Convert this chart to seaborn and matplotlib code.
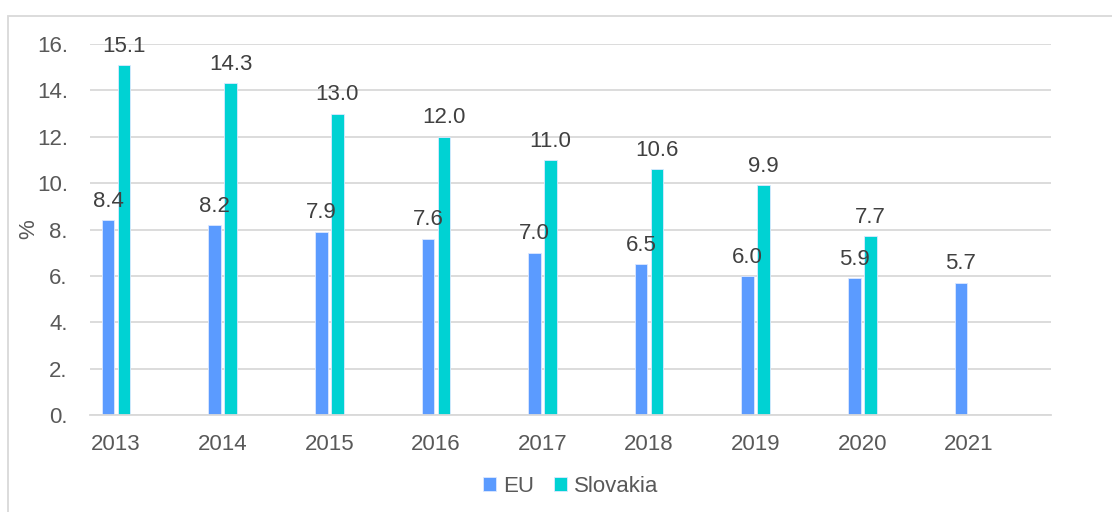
import matplotlib
matplotlib.use("Agg")
import matplotlib.pyplot as plt
import seaborn as sns
import pandas as pd
import numpy as np
from matplotlib.patches import Rectangle

years = ["2013", "2014", "2015", "2016", "2017", "2018", "2019", "2020", "2021"]
eu = [8.4, 8.2, 7.9, 7.6, 7.0, 6.5, 6.0, 5.9, 5.7]
slovakia = [15.1, 14.3, 13.0, 12.0, 11.0, 10.6, 9.9, 7.7, np.nan]
series = ["EU", "Slovakia"]
colors = ["#5B9BFF", "#00D2D3"]
yticks = [0, 2, 4, 6, 8, 10, 12, 14, 16]
ytick_labels = ["0.", "2.", "4.", "6.", "8.", "10.", "12.", "14.", "16."]

df = pd.DataFrame({
    "year": years * 2,
    "value": eu + slovakia,
    "series": ["EU"] * len(years) + ["Slovakia"] * len(years),
})

sns.set_theme(style="white")
plt.rcParams["font.family"] = ["Liberation Sans", "DejaVu Sans"]

fig = plt.figure(figsize=(11.12, 5.12), dpi=100)
ax = fig.add_axes([90 / 1112, 1 - 415 / 512, (1051 - 90) / 1112, (415 - 44) / 512])

sns.barplot(data=df, x="year", y="value", hue="series", hue_order=series,
            palette=colors, saturation=1, width=0.3, gap=0.22, ax=ax,
            edgecolor="#DCE8FF", linewidth=0.6, legend=True)

grey = "#595959"
fs = 16
ax.set_ylim(0, 16)
ax.set_xlim(-0.245, 8.77)
ax.set_yticks(yticks)
ax.set_yticklabels(ytick_labels)
ax.yaxis.grid(True, color="#D9D9D9", linewidth=1.3)
ax.set_axisbelow(True)
for s in ["top", "right", "left"]:
    ax.spines[s].set_visible(False)
ax.spines["bottom"].set_color("#D9D9D9")
ax.spines["bottom"].set_linewidth(1.3)
ax.tick_params(axis="both", length=0, labelsize=fs, colors=grey)
ax.tick_params(axis="x", pad=14)
ax.tick_params(axis="y", pad=16)
ax.set_xlabel("")
ax.set_ylabel("%", fontsize=fs, color=grey, labelpad=-2)

for cont in ax.containers:
    labels = ["" if np.isnan(v) else f"{v:.1f}" for v in cont.datavalues]
    ax.bar_label(cont, labels=labels, padding=6, fontsize=fs, color="#404040")

leg = ax.legend(loc="upper center", bbox_to_anchor=(0.5, -0.11), ncol=2,
                frameon=False, fontsize=fs, handlelength=0.6, handleheight=0.6,
                handletextpad=0.3, columnspacing=0.9)
for t in leg.get_texts():
    t.set_color(grey)

fig.patches.append(Rectangle((8 / 1112, -0.01), 1.02, 1 - 16 / 512 + 0.01,
                             transform=fig.transFigure, fill=False,
                             edgecolor="#D9D9D9", linewidth=1.3))

fig.savefig("out.png", dpi=100)
